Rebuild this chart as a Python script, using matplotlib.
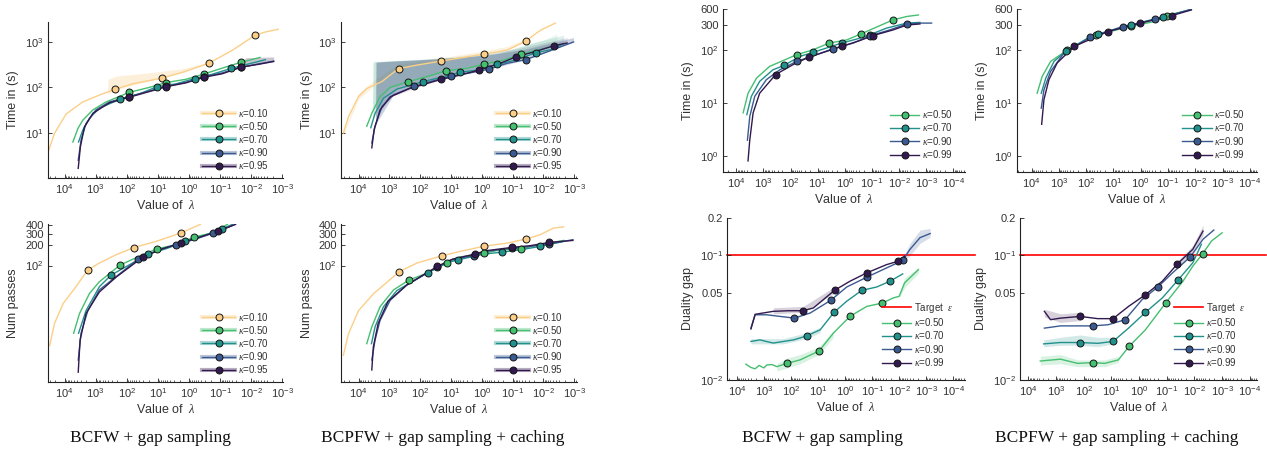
import numpy as np
import matplotlib.pyplot as plt
from matplotlib.lines import Line2D
from matplotlib.ticker import FixedLocator, FixedFormatter, NullLocator

plt.rcParams['font.family'] = ['Liberation Sans', 'DejaVu Sans']
plt.rcParams['mathtext.fontset'] = 'custom'
plt.rcParams['mathtext.rm'] = 'Liberation Sans'
plt.rcParams['mathtext.it'] = 'Liberation Serif:italic'
plt.rcParams['mathtext.default'] = 'regular'

# colours per kappa
C10 = '#fbcf88'
C50 = '#45bf70'
C70 = '#21918c'
C90 = '#3b5a91'
C95 = '#32194f'

# ---------------- left group: time, BCFW + gap sampling  (lambda, seconds)
time_bcfw_k10 = [(3.2e4, 4.2), (2.1e4, 9.8), (8.9e3, 26), (2.6e3, 48), (760, 68), (240, 91), (65, 120),
                 (7.6, 160), (1.6, 215), (0.23, 340), (0.04, 660), (7.6e-3, 1400), (3.5e-3, 1660), (1.35e-3, 1900)]
time_bcfw_k10_mk = [(240, 91), (7.6, 165), (0.23, 345), (7.6e-3, 1400)]
time_bcfw_k10_band = [(420, 70, 75), (400, 72, 150), (220, 90, 178), (19, 140, 210), (1.6, 215, 259),
                      (0.37, 310, 333), (0.23, 340, 345)]
time_bcfw_k50 = [(5400, 6.3), (3700, 12.6), (2600, 19), (1230, 32), (460, 48), (83, 78), (19, 100), (5.5, 128),
                 (1.26, 151), (0.33, 198), (0.065, 282), (0.022, 355), (5.2e-3, 457)]
time_bcfw_k50_mk = [(83, 78), (5.5, 128), (0.33, 198), (0.022, 355)]
time_bcfw_k70 = [(3550, 6.3), (2600, 11.5), (1580, 21), (760, 35), (166, 55), (40, 72), (10.5, 104), (2.6, 120),
                 (0.66, 157), (0.18, 195), (0.044, 262), (0.0117, 331), (3.5e-3, 407)]
time_bcfw_k70_mk = [(166, 55), (10.5, 104), (0.66, 157), (0.044, 262)]
time_bcfw_k90 = [(3630, 2.5), (2950, 6.9), (2040, 16), (980, 32), (360, 48), (85, 63), (19, 83), (5.5, 106),
                 (1.26, 129), (0.33, 171), (0.085, 209), (0.022, 276), (5.6e-3, 331), (1.9e-3, 380)]
time_bcfw_k90_mk = [(85, 63), (5.5, 106), (0.33, 171), (0.022, 276)]
time_bcfw_k95 = [(3630, 1.66), (3100, 4.9), (2300, 13.5), (1230, 27), (360, 46), (83, 61), (19, 81), (5.3, 104),
                 (1.26, 126), (0.32, 168), (0.085, 200), (0.021, 280), (5.6e-3, 324), (1.9e-3, 372)]
time_bcfw_k95_mk = [(83, 61), (5.3, 104), (0.32, 168), (0.021, 280)]
time_bcfw_k95_band = [(0.03, 255, 270), (0.015, 290, 450), (1.9e-3, 372, 470)]

# ---------------- left group: passes, BCFW + gap sampling
pass_bcfw_k10 = [(3e4, 6.3), (2.1e4, 13.5), (1.1e4, 27), (4300, 48), (1820, 85), (760, 109), (219, 145),
                 (59, 186), (11.5, 230), (1.82, 308), (0.43, 415)]
pass_bcfw_k10_mk = [(1820, 85), (59, 186), (1.82, 308)]
pass_bcfw_k50 = [(5100, 9.6), (3300, 19), (1580, 38), (760, 57), (162, 102), (40, 137), (10.7, 178), (2.6, 205),
                 (0.68, 268), (0.18, 308), (0.058, 415)]
pass_bcfw_k50_mk = [(162, 102), (10.7, 178), (0.68, 268)]
pass_bcfw_k70 = [(3550, 9.6), (2040, 21), (760, 48), (316, 72), (65, 109), (20.4, 150), (5.5, 178), (1.32, 230),
                 (0.29, 288), (0.085, 357), (0.04, 415)]
pass_bcfw_k70_mk = [(316, 72), (20.4, 150), (1.32, 230), (0.085, 357)]
pass_bcfw_k90 = [(3630, 3.8), (2950, 9.6), (1780, 21), (760, 43), (219, 68), (42, 126), (9.1, 173), (2.6, 205),
                 (0.6, 250), (0.166, 307), (0.032, 415)]
pass_bcfw_k90_mk = [(42, 126), (2.6, 205), (0.166, 307)]
pass_bcfw_k95 = [(3630, 2.5), (3160, 7.6), (2040, 19), (760, 40), (219, 67), (29.5, 135), (7.1, 178),
                 (1.82, 218), (0.47, 265), (0.115, 327), (0.032, 415)]
pass_bcfw_k95_mk = [(29.5, 135), (1.82, 218), (0.115, 327)]

# ---------------- left group: time, BCPFW + gap sampling + caching
time_bcpfw_k10 = [(3.1e4, 10), (2.1e4, 23), (1e4, 63), (5400, 95), (1740, 135), (500, 260), (126, 310), (21, 380),
                  (3, 470), (0.87, 540), (0.15, 660), (0.037, 1050), (0.0126, 1800), (4.1e-3, 2600)]
time_bcpfw_k10_mk = [(500, 260), (21, 380), (0.87, 540), (0.037, 1050)]
time_bcpfw_k10_band = [(3.1e4, 9, 11), (1e4, 55, 75), (3000, 110, 150), (500, 260, 330), (21, 380, 450),
                       (0.87, 540, 640), (0.15, 660, 800), (0.037, 1050, 1150)]
time_bcpfw_k50 = [(5400, 14), (3700, 27), (2000, 63), (940, 100), (240, 134), (60, 173), (14.5, 233), (3, 263),
                  (0.87, 325), (0.19, 398), (0.054, 538), (0.0126, 680), (3.6e-3, 850)]
time_bcpfw_k50_mk = [(240, 134), (14.5, 233), (0.87, 325), (0.054, 538)]
time_bcpfw_k50_band = [(3600, 27, 29), (3400, 30, 370), (940, 100, 390), (100, 160, 420), (10, 240, 470),
                       (1, 320, 560), (0.1, 450, 700), (0.01, 700, 1100), (3.6e-3, 850, 1500)]
time_bcpfw_k70 = [(4000, 13), (2900, 27), (1550, 58), (570, 92), (81, 134), (22, 166), (5, 215), (1.45, 240),
                  (0.31, 320), (0.072, 410), (0.018, 575), (4.7e-3, 700), (2.2e-3, 915)]
time_bcpfw_k70_mk = [(81, 134), (5, 215), (0.31, 320), (0.018, 575)]
time_bcpfw_k70_band = [(3500, 20, 22), (3300, 22, 365), (570, 92, 385), (81, 134, 410), (5, 215, 460),
                       (0.31, 320, 560), (0.018, 575, 1000), (2.2e-3, 915, 1400)]
time_bcpfw_k90 = [(3700, 6), (2900, 14), (1740, 38), (730, 69), (162, 105), (36, 141), (9.8, 178), (2.3, 210),
                  (0.6, 252), (0.15, 340), (0.037, 410), (7.8e-3, 600), (1.05e-3, 1000)]
time_bcpfw_k90_mk = [(162, 105), (9.8, 178), (0.6, 252), (0.037, 410)]
time_bcpfw_k90_band = [(2800, 14, 16), (2700, 16, 360), (730, 69, 380), (162, 105, 400), (9.8, 178, 450),
                       (0.6, 252, 520), (0.037, 410, 700), (1.05e-3, 1000, 1250)]
time_bcpfw_k95 = [(3700, 4.7), (3100, 12), (2000, 32), (940, 62), (210, 96), (21, 150), (5, 187), (1.26, 241),
                  (0.25, 340), (0.078, 470), (0.021, 600), (4.5e-3, 830), (1.7e-3, 950)]
time_bcpfw_k95_mk = [(21, 150), (1.26, 241), (0.078, 470), (4.5e-3, 830)]
time_bcpfw_k95_band = [(2800, 19, 21), (2700, 21, 360), (940, 62, 380), (21, 150, 430), (1.26, 241, 500),
                       (0.078, 470, 700), (1.7e-3, 950, 1250)]

# ---------------- left group: passes, BCPFW + gap sampling + caching
pass_bcpfw_k10 = [(3.1e4, 4.5), (2.1e4, 9.5), (1e4, 21), (3200, 38), (470, 81), (126, 109), (19.5, 140), (5, 163),
                  (0.87, 194), (0.15, 217), (0.037, 250), (0.0126, 290), (4.7e-3, 365), (2.2e-3, 380)]
pass_bcpfw_k10_mk = [(470, 81), (19.5, 140), (0.87, 194), (0.037, 250)]
pass_bcpfw_k50 = [(5400, 6.7), (3700, 12), (2000, 24), (730, 43), (235, 60), (56, 78), (13.5, 108), (5, 134),
                  (0.83, 153), (0.32, 168), (0.052, 180), (0.0126, 205), (2.2e-3, 238)]
pass_bcpfw_k50_mk = [(235, 60), (13.5, 108), (0.83, 153), (0.052, 180)]
pass_bcpfw_k70 = [(3800, 6.7), (2900, 12), (1550, 24), (570, 42), (56, 78), (13.5, 110), (5.8, 122), (0.87, 148),
                  (0.22, 159), (0.056, 172), (0.013, 193), (2.2e-3, 230)]
pass_bcpfw_k70_mk = [(56, 78), (5.8, 122), (0.22, 159), (0.013, 193)]
pass_bcpfw_k90 = [(3700, 3.8), (2900, 7.6), (2000, 15), (940, 30), (270, 51), (29, 94), (9.8, 122), (1.8, 141),
                  (0.78, 162), (0.107, 182), (0.028, 193), (6.8e-3, 210), (1.1e-3, 244)]
pass_bcpfw_k90_mk = [(29, 94), (1.8, 141), (0.107, 182), (6.8e-3, 210)]
pass_bcpfw_k95 = [(3700, 2.7), (3300, 6), (2300, 13.5), (1100, 29), (270, 51), (27.5, 97), (8.7, 125), (1.7, 148),
                  (0.78, 166), (0.105, 187), (0.028, 198), (6.4e-3, 222), (1.1e-3, 238)]
pass_bcpfw_k95_mk = [(27.5, 97), (1.7, 148), (0.105, 187), (6.4e-3, 222)]

# ---------------- right group: time, BCFW + gap sampling
rtime_bcfw_k50 = [(5600, 6.6), (3700, 15.5), (1800, 30), (590, 50), (60, 83), (14.8, 103), (3.8, 138), (0.87, 158),
                  (0.25, 206), (0.068, 277), (0.0166, 380), (5.2e-3, 440), (1.95e-3, 470)]
rtime_bcfw_k50_mk = [(60, 83), (3.8, 138), (0.25, 206), (0.0166, 380)]
rtime_bcfw_k70 = [(4100, 6.1), (2800, 13.5), (1380, 26), (450, 43), (174, 52), (46, 77), (14.8, 92), (1.32, 138),
                  (0.37, 164), (0.12, 198), (0.029, 265), (5.2e-3, 330), (1.7e-3, 340)]
rtime_bcfw_k70_mk = [(174, 52), (14.8, 92), (1.32, 138), (0.12, 198)]
rtime_bcfw_k90 = [(3900, 2.0), (3200, 5.6), (2100, 13.5), (780, 28), (250, 43), (60, 62), (11.2, 83), (2.7, 108),
                  (0.49, 138), (0.12, 189), (0.022, 245), (5.2e-3, 318), (1.7e-3, 330), (6.3e-4, 330)]
rtime_bcfw_k90_mk = [(60, 62), (2.7, 108), (0.12, 189), (5.2e-3, 318)]
rtime_bcfw_k99 = [(3700, 0.81), (3200, 2.0), (2400, 6.6), (1380, 15.5), (355, 35), (81, 54), (21, 75), (4.8, 96),
                  (1.32, 119), (0.28, 154), (0.089, 192), (0.0166, 245), (5.2e-3, 303), (1.7e-3, 318)]
rtime_bcfw_k99_mk = [(355, 35), (21, 75), (1.32, 119), (0.089, 192)]

# ---------------- right group: time, BCPFW + gap sampling + caching
rtime_bcpfw_k50 = [(6200, 15.5), (4100, 32), (2000, 62), (515, 100), (89, 170), (44, 200), (16, 222), (2.3, 288),
                   (0.32, 352), (0.107, 450), (0.014, 600)]
rtime_bcpfw_k50_mk = [(515, 100), (44, 200), (2.3, 288), (0.107, 450)]
rtime_bcpfw_k70 = [(4400, 15.5), (3000, 30), (1500, 62), (560, 96), (68, 183), (36, 206), (2.3, 301),
                   (0.148, 438), (0.014, 600)]
rtime_bcpfw_k70_mk = [(560, 96), (36, 206), (2.3, 301), (0.148, 438)]
rtime_bcpfw_k90 = [(4400, 8.1), (3500, 18), (2000, 40), (650, 89), (71, 178), (4.6, 284), (0.29, 390), (0.014, 600)]
rtime_bcpfw_k90_mk = [(71, 178), (4.6, 284), (0.29, 390)]
rtime_bcpfw_k99 = [(4250, 4.0), (3500, 11.8), (2300, 28), (1150, 58), (275, 119), (16, 228), (1.05, 328),
                   (0.072, 458), (0.014, 585)]
rtime_bcpfw_k99_mk = [(275, 119), (16, 228), (1.05, 328), (0.072, 458)]

# ---------------- right group: duality gap, BCFW + gap sampling
gap_bcfw_k50 = [(4600, 0.0134), (3000, 0.0126), (2100, 0.0123), (1500, 0.0131), (1000, 0.0125), (780, 0.0132),
                (500, 0.0133), (330, 0.0128), (141, 0.0136), (46, 0.0145), (9.1, 0.0171), (2.7, 0.0238),
                (0.66, 0.0324), (0.158, 0.039), (0.042, 0.0415), (0.0166, 0.0456), (0.01, 0.047), (6.3e-3, 0.0603),
                (1.95e-3, 0.077)]
gap_bcfw_k50_mk = [(141, 0.0136), (9.1, 0.0171), (0.66, 0.0324), (0.042, 0.0415)]
gap_bcfw_k50_band = [(330, 0.0118, 0.0135), (141, 0.0125, 0.0150), (46, 0.0135, 0.0160), (9.1, 0.016, 0.0185),
                     (2.7, 0.022, 0.025)]
gap_bcfw_k50_band2 = [(0.01, 0.046, 0.05), (6.3e-3, 0.055, 0.066), (1.95e-3, 0.072, 0.08)]
gap_bcfw_k70 = [(3000, 0.0204), (1380, 0.021), (900, 0.0205), (450, 0.0198), (190, 0.0204), (80, 0.021),
                (26, 0.0226), (8.3, 0.0253), (2.57, 0.0349), (0.87, 0.0429), (0.24, 0.0525), (0.068, 0.0558),
                (0.022, 0.0621), (7.4e-3, 0.0711)]
gap_bcfw_k70_mk = [(26, 0.0226), (2.57, 0.0349), (0.24, 0.0525), (0.022, 0.0621)]
gap_bcfw_k70_band = [(3000, 0.0195, 0.0215), (190, 0.0195, 0.0215), (26, 0.0215, 0.024), (8.3, 0.024, 0.0265)]
gap_bcfw_k90 = [(3000, 0.0261), (2100, 0.0334), (780, 0.0334), (250, 0.0324), (74, 0.0314), (19.5, 0.0345),
                (3.4, 0.0436), (0.87, 0.0558), (0.158, 0.0669), (0.029, 0.0795), (7.4e-3, 0.0912), (4e-3, 0.112),
                (1.7e-3, 0.139), (7.2e-4, 0.150)]
gap_bcfw_k90_mk = [(74, 0.0314), (3.4, 0.0436), (0.158, 0.0669), (7.4e-3, 0.0912)]
gap_bcfw_k90_band = [(7.4e-3, 0.088, 0.095), (4e-3, 0.10, 0.125), (1.7e-3, 0.125, 0.16), (7.2e-4, 0.14, 0.165)]
gap_bcfw_k99 = [(3000, 0.0257), (2100, 0.0337), (450, 0.0356), (123, 0.036), (35, 0.036), (14.8, 0.0379),
                (2.45, 0.0525), (0.66, 0.0621), (0.158, 0.0725), (0.029, 0.0845), (0.0107, 0.09), (6.3e-3, 0.0988)]
gap_bcfw_k99_mk = [(35, 0.036), (2.45, 0.0525), (0.158, 0.0725), (0.0107, 0.09)]
gap_bcfw_k99_band = [(450, 0.034, 0.038), (35, 0.035, 0.039), (2.45, 0.050, 0.056)]

# ---------------- right group: duality gap, BCPFW + gap sampling + caching
gap_bcpfw_k50 = [(3700, 0.0142), (690, 0.0147), (166, 0.0136), (47, 0.0138), (17.4, 0.0136), (5.6, 0.0145),
                 (2.3, 0.0186), (0.59, 0.0253), (0.11, 0.0415), (0.026, 0.0621), (0.0115, 0.082), (5.1e-3, 0.103),
                 (2.4e-3, 0.131), (1.0e-3, 0.152)]
gap_bcpfw_k50_mk = [(47, 0.0138), (2.3, 0.0186), (0.11, 0.0415), (5.1e-3, 0.103)]
gap_bcpfw_k50_band = [(3700, 0.0132, 0.0155), (690, 0.0135, 0.016), (166, 0.0128, 0.0145), (17.4, 0.0128, 0.0145),
                      (5.6, 0.0138, 0.0155)]
gap_bcpfw_k70 = [(2800, 0.0195), (690, 0.02), (135, 0.02), (31, 0.0197), (8.7, 0.0204), (2.4, 0.0261),
                 (0.59, 0.0349), (0.145, 0.0456), (0.038, 0.064), (0.0115, 0.0873), (5.6e-3, 0.123)]
gap_bcpfw_k70_mk = [(135, 0.02), (8.7, 0.0204), (0.59, 0.0349), (0.038, 0.064)]
gap_bcpfw_k70_band = [(2800, 0.0185, 0.021), (690, 0.019, 0.022), (135, 0.019, 0.023), (31, 0.0185, 0.022),
                      (8.7, 0.0195, 0.022)]
gap_bcpfw_k90 = [(2630, 0.0261), (690, 0.0272), (47, 0.0272), (13, 0.0278), (3.2, 0.0305), (0.78, 0.0442),
                 (0.21, 0.0558), (0.062, 0.0725), (0.014, 0.0975), (4.9e-3, 0.135), (2.0e-3, 0.16)]
gap_bcpfw_k90_mk = [(47, 0.0272), (3.2, 0.0305), (0.21, 0.0558), (0.014, 0.0975)]
gap_bcpfw_k99 = [(2630, 0.0356), (1580, 0.0305), (690, 0.0314), (135, 0.0324), (31, 0.0311), (8.7, 0.0311),
                 (2.4, 0.039), (0.59, 0.0484), (0.145, 0.0621), (0.041, 0.0857), (0.0115, 0.112), (4.9e-3, 0.157)]
gap_bcpfw_k99_mk = [(135, 0.0324), (8.7, 0.0311), (0.59, 0.0484), (0.041, 0.0857)]
gap_bcpfw_k99_band = [(2630, 0.032, 0.037), (690, 0.029, 0.034), (135, 0.030, 0.035)]
gap_bcpfw_k99_band2 = [(0.041, 0.08, 0.09), (0.0115, 0.105, 0.12), (4.9e-3, 0.145, 0.175)]

TARGET_EPS = 0.1
LEFT_KAPPAS = ['0.10', '0.50', '0.70', '0.90', '0.95']
RIGHT_KAPPAS = ['0.50', '0.70', '0.90', '0.99']
LEFT_COLORS = [C10, C50, C70, C90, C95]
RIGHT_COLORS = [C50, C70, C90, C95]
TITLES = ['BCFW + gap sampling', 'BCPFW + gap sampling + caching']

TXT = '#333333'


def draw(ax, pts, marks, color, bands=(), alpha=0.25):
    for b in bands:
        bl, lo, hi = zip(*b)
        ax.fill_between(bl, lo, hi, color=color, alpha=alpha, lw=0)
    lam, val = zip(*pts)
    ax.plot(lam, val, color=color, lw=1.0)
    if marks:
        ml, mv = zip(*marks)
        ax.plot(ml, mv, 'o', ms=5, mfc=color, mec='#151515', mew=0.7, zorder=4)


def decade_ticks(lo, hi):
    # only ticks that fall inside the axis range, so no hidden labels outside
    k0, k1 = int(np.ceil(np.log10(lo))), int(np.floor(np.log10(hi)))
    major = [10.0 ** k for k in range(k0, k1 + 1)]
    minor = [m * 10.0 ** k for k in range(k0 - 1, k1 + 1) for m in range(2, 10) if lo <= m * 10.0 ** k <= hi]
    labels = ['$10^{%d}$' % k for k in range(k0, k1 + 1)]
    return major, minor, labels


def style(ax, xlim, ylim, yticks, ylabels, ylabel, ylab_x):
    ax.set_xscale('log')
    ax.set_yscale('log')
    ax.set_xlim(*xlim)
    ax.set_ylim(*ylim)
    for s in ['top', 'right']:
        ax.spines[s].set_visible(False)
    for s in ['left', 'bottom']:
        ax.spines[s].set_color('#222222')
        ax.spines[s].set_linewidth(0.8)
    major, minor, labels = decade_ticks(min(xlim), max(xlim))
    ax.xaxis.set_major_locator(FixedLocator(major))
    ax.xaxis.set_major_formatter(FixedFormatter(labels))
    ax.xaxis.set_minor_locator(FixedLocator(minor))
    ax.yaxis.set_major_locator(FixedLocator(yticks))
    ax.yaxis.set_major_formatter(FixedFormatter(ylabels))
    ax.yaxis.set_minor_locator(NullLocator())
    ax.tick_params(which='major', direction='in', length=3, width=0.6, labelsize=8, colors='#222222',
                   labelcolor=TXT, pad=3)
    ax.tick_params(which='minor', direction='in', length=1.8, width=0.5, colors='#222222')
    ax.set_xlabel('Value of  $\\mathit{\\lambda}$', fontsize=9, color=TXT, labelpad=2)
    ax.set_ylabel(ylabel, fontsize=9, color=TXT)
    ax.yaxis.set_label_coords(ylab_x, 0.5)


def left_legend(ax):
    handles = []
    for c in LEFT_COLORS:
        thick = Line2D([], [], color=c, lw=3, alpha=0.35)
        thin = Line2D([], [], color=c, lw=1.0, marker='o', ms=5, mfc=c, mec='#151515', mew=0.7)
        handles.append((thick, thin))
    labels = ['$\\mathit{\\kappa}$=' + k for k in LEFT_KAPPAS]
    ax.legend(handles, labels, loc='lower right', bbox_to_anchor=(0.97, 0.0), frameon=False, fontsize=7,
              handlelength=3.4, labelspacing=0.12, handletextpad=0.3, borderpad=0.2, labelcolor=TXT)


def right_legend(ax, with_target=False):
    handles, labels = [], []
    if with_target:
        handles.append(Line2D([], [], color='red', lw=1.2))
        labels.append('Target  $\\mathit{\\epsilon}$')
    for c, k in zip(RIGHT_COLORS, RIGHT_KAPPAS):
        handles.append(Line2D([], [], color=c, lw=1.0, marker='o', ms=5, mfc=c, mec='#151515', mew=0.7))
        labels.append('$\\mathit{\\kappa}$=' + k)
    ax.legend(handles, labels, loc='lower right', bbox_to_anchor=(0.98, 0.03), frameon=False, fontsize=7,
              handlelength=3.0, labelspacing=0.15, handletextpad=0.3, borderpad=0.2, labelcolor=TXT)


W, H = 1267, 451
fig = plt.figure(figsize=(W / 100, H / 100), dpi=100)


def rect(l, r, t, b):
    return [l / W, 1 - b / H, (r - l) / W, (b - t) / H]


axA = fig.add_axes(rect(48, 283, 22, 178))
axB = fig.add_axes(rect(48, 283, 224, 382))
axC = fig.add_axes(rect(341, 577, 22, 178))
axD = fig.add_axes(rect(341, 577, 224, 382))
axE = fig.add_axes(rect(723, 965, 9, 172))
axF = fig.add_axes(rect(1017, 1257, 9, 172))
axG = fig.add_axes(rect(727, 965, 218, 380))
axH = fig.add_axes(rect(1020, 1257, 218, 380))

# panel A
draw(axA, time_bcfw_k10, time_bcfw_k10_mk, C10, [time_bcfw_k10_band], alpha=0.3)
draw(axA, time_bcfw_k50, time_bcfw_k50_mk, C50)
draw(axA, time_bcfw_k70, time_bcfw_k70_mk, C70)
draw(axA, time_bcfw_k90, time_bcfw_k90_mk, C90)
draw(axA, time_bcfw_k95, time_bcfw_k95_mk, C95, [time_bcfw_k95_band])
# panel B
draw(axB, pass_bcfw_k10, pass_bcfw_k10_mk, C10)
draw(axB, pass_bcfw_k50, pass_bcfw_k50_mk, C50)
draw(axB, pass_bcfw_k70, pass_bcfw_k70_mk, C70)
draw(axB, pass_bcfw_k90, pass_bcfw_k90_mk, C90)
draw(axB, pass_bcfw_k95, pass_bcfw_k95_mk, C95)
# panel C
draw(axC, time_bcpfw_k10, time_bcpfw_k10_mk, C10, [time_bcpfw_k10_band], alpha=0.25)
draw(axC, time_bcpfw_k50, time_bcpfw_k50_mk, C50, [time_bcpfw_k50_band], alpha=0.12)
draw(axC, time_bcpfw_k70, time_bcpfw_k70_mk, C70, [time_bcpfw_k70_band], alpha=0.15)
draw(axC, time_bcpfw_k90, time_bcpfw_k90_mk, C90, [time_bcpfw_k90_band], alpha=0.28)
draw(axC, time_bcpfw_k95, time_bcpfw_k95_mk, C95, [time_bcpfw_k95_band], alpha=0.12)
# panel D
draw(axD, pass_bcpfw_k10, pass_bcpfw_k10_mk, C10)
draw(axD, pass_bcpfw_k50, pass_bcpfw_k50_mk, C50)
draw(axD, pass_bcpfw_k70, pass_bcpfw_k70_mk, C70)
draw(axD, pass_bcpfw_k90, pass_bcpfw_k90_mk, C90)
draw(axD, pass_bcpfw_k95, pass_bcpfw_k95_mk, C95)
# panel E
draw(axE, rtime_bcfw_k50, rtime_bcfw_k50_mk, C50)
draw(axE, rtime_bcfw_k70, rtime_bcfw_k70_mk, C70)
draw(axE, rtime_bcfw_k90, rtime_bcfw_k90_mk, C90)
draw(axE, rtime_bcfw_k99, rtime_bcfw_k99_mk, C95)
# panel F
draw(axF, rtime_bcpfw_k50, rtime_bcpfw_k50_mk, C50)
draw(axF, rtime_bcpfw_k70, rtime_bcpfw_k70_mk, C70)
draw(axF, rtime_bcpfw_k90, rtime_bcpfw_k90_mk, C90)
draw(axF, rtime_bcpfw_k99, rtime_bcpfw_k99_mk, C95)
# panel G
draw(axG, gap_bcfw_k50, gap_bcfw_k50_mk, C50, [gap_bcfw_k50_band, gap_bcfw_k50_band2], alpha=0.2)
draw(axG, gap_bcfw_k70, gap_bcfw_k70_mk, C70, [gap_bcfw_k70_band], alpha=0.2)
draw(axG, gap_bcfw_k90, gap_bcfw_k90_mk, C90, [gap_bcfw_k90_band], alpha=0.2)
draw(axG, gap_bcfw_k99, gap_bcfw_k99_mk, C95, [gap_bcfw_k99_band], alpha=0.2)
# panel H
draw(axH, gap_bcpfw_k50, gap_bcpfw_k50_mk, C50, [gap_bcpfw_k50_band], alpha=0.2)
draw(axH, gap_bcpfw_k70, gap_bcpfw_k70_mk, C70, [gap_bcpfw_k70_band], alpha=0.2)
draw(axH, gap_bcpfw_k90, gap_bcpfw_k90_mk, C90)
draw(axH, gap_bcpfw_k99, gap_bcpfw_k99_mk, C95, [gap_bcpfw_k99_band, gap_bcpfw_k99_band2], alpha=0.2)

for ax in (axG, axH):
    ax.axhline(TARGET_EPS, xmin=0, xmax=1.04, color='red', lw=1.2, clip_on=False, zorder=1)

t_ticks = [10, 100, 1000]
t_labels = ['$10^{1}$', '$10^{2}$', '$10^{3}$']
p_ticks = [100, 200, 300, 400]
p_labels = ['$10^{2}$', '200', '300', '400']
r_ticks = [1, 10, 100, 300, 600]
r_labels = ['$10^{0}$', '$10^{1}$', '$10^{2}$', '300', '600']
g_ticks = [0.01, 0.05, 0.1, 0.2]
g_labels = ['$10^{-2}$', '0.05', '$10^{-1}$', '0.2']

style(axA, (3.4e4, 9.5e-4), (1.02, 2750), t_ticks, t_labels, 'Time in (s)', -0.123)
style(axB, (3.4e4, 9.5e-4), (1.78, 420), p_ticks, p_labels, 'Num passes', -0.123)
style(axC, (3.7e4, 8.1e-4), (1.02, 2750), t_ticks, t_labels, 'Time in (s)', -0.119)
style(axD, (3.7e4, 8.1e-4), (1.78, 420), p_ticks, p_labels, 'Num passes', -0.119)
style(axE, (3.1e4, 3.7e-5), (0.5, 610), r_ticks, r_labels, 'Time in (s)', -0.12)
style(axF, (3.4e4, 5.5e-5), (0.5, 610), r_ticks, r_labels, 'Time in (s)', -0.12)
style(axG, (2.3e4, 3.7e-5), (0.01, 0.2), g_ticks, g_labels, 'Duality gap', -0.139)
style(axH, (2.0e4, 5.5e-5), (0.01, 0.2), g_ticks, g_labels, 'Duality gap', -0.139)

for ax in (axA, axB, axC, axD):
    left_legend(ax)
for ax in (axE, axF):
    right_legend(ax)
for ax in (axG, axH):
    right_legend(ax, with_target=True)

for x, t in zip([150, 443, 823, 1117], TITLES * 2):
    fig.text(x / W, 1 - 438 / H, t, ha='center', va='center', fontsize=12.5,
             family=['Liberation Serif', 'DejaVu Serif'], color='#111111')

fig.savefig('out.png', dpi=100)
